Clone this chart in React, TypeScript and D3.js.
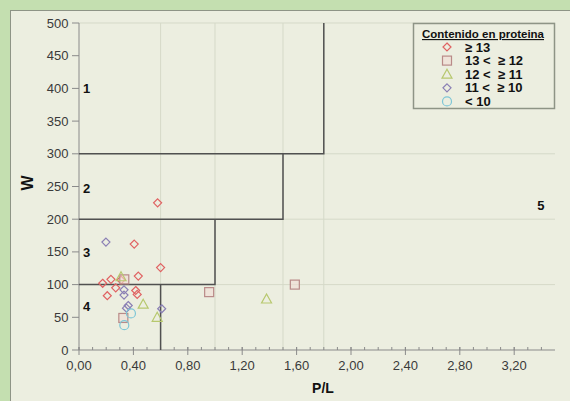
import { useEffect, useRef } from 'react'
import * as d3 from 'd3'

// P/L vs W, grouped by protein content
const diam13: [number, number][] = [
  [0.578, 225], [0.406, 162], [0.6, 126], [0.436, 113], [0.174, 102], [0.235, 108],
  [0.27, 95], [0.208, 83], [0.417, 91], [0.428, 85], [0.309, 107],
]
const sq12: [number, number][] = [[0.333, 108], [0.326, 49], [0.957, 88.5], [1.587, 100]]
const tri11: [number, number][] = [[0.309, 112], [0.472, 70], [0.575, 50], [1.379, 78]]
const diam10: [number, number][] = [
  [0.198, 165], [0.331, 92], [0.331, 84], [0.362, 68], [0.349, 64], [0.608, 63],
]
const circ10: [number, number][] = [[0.382, 56], [0.333, 38]]

const legendLabels = ['≥ 13', '13 <  ≥ 12', '12 <  ≥ 11', '11 <  ≥ 10', '< 10']

const xTicks = [0, 0.4, 0.8, 1.2, 1.6, 2.0, 2.4, 2.8, 3.2]
const xMinor = d3.range(0, 35).map(i => i / 10)
const yTicks = [0, 50, 100, 150, 200, 250, 300, 350, 400, 450, 500]

// zone boundaries
const zoneLines: [number, number][][] = [
  [[0, 300], [1.8, 300], [1.8, 500]],
  [[0, 200], [1.5, 200], [1.5, 300]],
  [[0, 100], [1.0, 100], [1.0, 200]],
  [[0.6, 0], [0.6, 100]],
]
const faintX = [0.6, 1.0, 1.5, 1.8]
const faintY = [100, 200, 300, 500]
const zoneLabels: { t: string; x: number; y: number }[] = [
  { t: '1', x: 0.03, y: 400 },
  { t: '2', x: 0.03, y: 247 },
  { t: '3', x: 0.03, y: 150 },
  { t: '4', x: 0.03, y: 67 },
  { t: '5', x: 3.37, y: 221 },
]

export default function App() {
  const svgRef = useRef<SVGSVGElement>(null)

  useEffect(() => {
    if (!svgRef.current) return
    const width = 570
    const height = 401
    const svg = d3.select(svgRef.current)
    svg.selectAll('*').remove()
    const font = 'Liberation Sans, Arial, sans-serif'

    svg.append('rect').attr('width', width).attr('height', height).attr('fill', '#c4dfb0')
    svg.append('rect').attr('x', 10.5).attr('y', 10.5).attr('width', width).attr('height', height)
      .attr('fill', '#eceee0').attr('stroke', '#8e9486')

    const x = d3.scaleLinear().domain([0, 3.5]).range([79, 555])
    const y = d3.scaleLinear().domain([0, 500]).range([350, 23])

    // faint guide lines
    faintX.forEach(v => {
      svg.append('line').attr('x1', x(v)).attr('x2', x(v)).attr('y1', y(500)).attr('y2', y(0))
        .attr('stroke', '#d5d9c8').attr('stroke-width', 1)
    })
    faintY.forEach(v => {
      svg.append('line').attr('x1', x(0)).attr('x2', x(3.5)).attr('y1', y(v)).attr('y2', y(v))
        .attr('stroke', '#d5d9c8').attr('stroke-width', 1)
    })

    // axes
    svg.append('line').attr('x1', x(0)).attr('x2', x(0)).attr('y1', y(500)).attr('y2', y(0))
      .attr('stroke', '#8a8a8a')
    svg.append('line').attr('x1', x(0)).attr('x2', x(3.5)).attr('y1', y(0)).attr('y2', y(0))
      .attr('stroke', '#8a8a8a')
    yTicks.forEach(v => {
      svg.append('line').attr('x1', x(0) - 7).attr('x2', x(0)).attr('y1', y(v)).attr('y2', y(v))
        .attr('stroke', '#8a8a8a')
      svg.append('text').attr('x', 68.5).attr('y', y(v) + 4.5).attr('text-anchor', 'end')
        .attr('font-family', font).attr('font-size', 13).attr('fill', '#3a3a3a').text(v)
    })
    xMinor.forEach(v => {
      svg.append('line').attr('x1', x(v)).attr('x2', x(v)).attr('y1', y(0) - 3).attr('y2', y(0))
        .attr('stroke', '#8a8a8a')
    })
    xTicks.forEach(v => {
      svg.append('line').attr('x1', x(v)).attr('x2', x(v)).attr('y1', y(0) - 3).attr('y2', y(0) + 5)
        .attr('stroke', '#8a8a8a')
      svg.append('text').attr('x', x(v)).attr('y', 370).attr('text-anchor', 'middle')
        .attr('font-family', font).attr('font-size', 13).attr('fill', '#3a3a3a')
        .text(d3.format('.2f')(v).replace('.', ','))
    })

    // zone boundaries
    const line = d3.line<[number, number]>().x(d => x(d[0])).y(d => y(d[1]))
    zoneLines.forEach(pts => {
      svg.append('path').attr('d', line(pts)).attr('fill', 'none')
        .attr('stroke', '#505050').attr('stroke-width', 1.5)
    })
    zoneLabels.forEach(z => {
      svg.append('text').attr('x', x(z.x)).attr('y', y(z.y) + 5)
        .attr('font-family', font).attr('font-size', 13).attr('font-weight', 'bold')
        .attr('fill', '#111').text(z.t)
    })

    // markers
    const diamond = (g: any, cx: number, cy: number, c: string) =>
      g.append('path').attr('d', `M${cx},${cy - 4}L${cx + 4},${cy}L${cx},${cy + 4}L${cx - 4},${cy}Z`)
        .attr('fill', 'none').attr('stroke', c).attr('stroke-width', 1.2)
    const square = (g: any, cx: number, cy: number, c: string) =>
      g.append('rect').attr('x', cx - 4.5).attr('y', cy - 4.5).attr('width', 9).attr('height', 9)
        .attr('fill', '#f1dcd4').attr('fill-opacity', 0.6).attr('stroke', c).attr('stroke-width', 1.2)
    const triangle = (g: any, cx: number, cy: number, c: string) =>
      g.append('path').attr('d', `M${cx},${cy - 5}L${cx + 5},${cy + 4}L${cx - 5},${cy + 4}Z`)
        .attr('fill', 'none').attr('stroke', c).attr('stroke-width', 1.2)
    const circle = (g: any, cx: number, cy: number, c: string) =>
      g.append('circle').attr('cx', cx).attr('cy', cy).attr('r', 4.5)
        .attr('fill', 'none').attr('stroke', c).attr('stroke-width', 1.2)

    const series = [
      { data: diam13, draw: diamond, color: '#e06262' },
      { data: sq12, draw: square, color: '#b98a88' },
      { data: tri11, draw: triangle, color: '#b7c86e' },
      { data: diam10, draw: diamond, color: '#8a7fb4' },
      { data: circ10, draw: circle, color: '#7ec6d6' },
    ]
    const pts = svg.append('g')
    series.forEach(s => s.data.forEach(d => s.draw(pts, x(d[0]), y(d[1]), s.color)))

    // legend
    const lg = svg.append('g')
    lg.append('rect').attr('x', 413.5).attr('y', 23.5).attr('width', 141).attr('height', 85)
      .attr('fill', '#eceee0').attr('stroke', '#8e9486').attr('stroke-width', 1.5)
    lg.append('text').attr('x', 483).attr('y', 38).attr('text-anchor', 'middle')
      .attr('font-family', font).attr('font-size', 11.5).attr('font-weight', 'bold')
      .attr('fill', '#111').attr('text-decoration', 'underline').text('Contenido en proteina')
    series.forEach((s, i) => {
      const cy = 47 + i * 13.6
      s.draw(lg, 447, cy, s.color)
      lg.append('text').attr('x', 465).attr('y', cy + 4.5)
        .attr('font-family', font).attr('font-size', 13).attr('font-weight', 'bold')
        .attr('fill', '#111').style('white-space', 'pre')
        .text(legendLabels[i])
    })

    // axis titles
    svg.append('text').attr('transform', `translate(33,183) rotate(-90)`).attr('text-anchor', 'middle')
      .attr('font-family', font).attr('font-size', 16).attr('font-weight', 'bold')
      .attr('fill', '#111').text('W')
    svg.append('text').attr('x', 323).attr('y', 393).attr('text-anchor', 'middle')
      .attr('font-family', font).attr('font-size', 14).attr('font-weight', 'bold')
      .attr('fill', '#111').text('P/L')
  }, [])

  return (
    <div style={{ position: 'absolute', left: 0, top: 0 }}>
      <svg ref={svgRef} width={570} height={401} style={{ display: 'block' }} />
    </div>
  )
}
